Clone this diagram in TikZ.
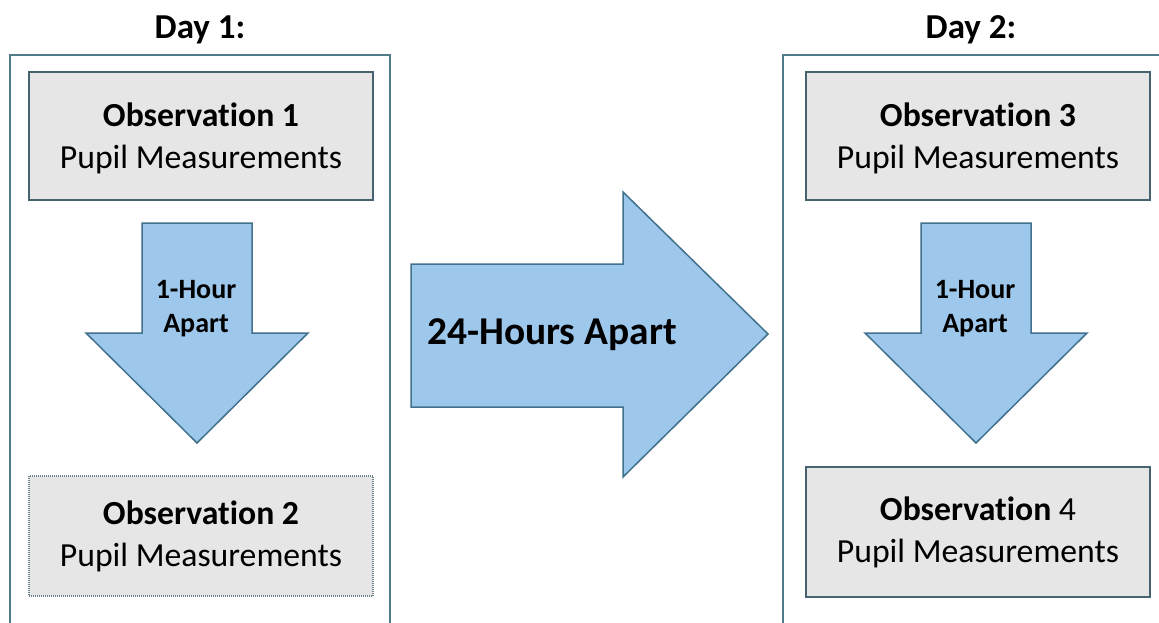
\documentclass[tikz,border=0pt]{standalone}
\usepackage{fontspec}
\setmainfont{Carlito}[Ligatures=NoCommon]
\usetikzlibrary{positioning}
\definecolor{panelc}{HTML}{4E7C88}
\definecolor{boxc}{HTML}{46636F}
\definecolor{boxfill}{HTML}{E7E6E6}
\definecolor{arrowc}{HTML}{9DC8EC}
\definecolor{arrowline}{HTML}{41718C}

\tikzset{
  panel/.style={draw=panelc, line width=2pt},
  obsbox/.style={draw=boxc, line width=2pt, fill=boxfill, minimum width=344pt,
    inner sep=0pt, align=center, font=\fontsize{33.7}{42}\selectfont},
  blockarrow/.style={draw=arrowline, line width=1.5pt, fill=arrowc, line join=miter},
  daylabel/.style={font=\fontsize{35}{40}\selectfont\bfseries},
}

\begin{document}
\begin{tikzpicture}[x=1pt, y=-1pt]
  \useasboundingbox (0,0) rectangle (1159,623);
  \clip (0,0) rectangle (1159,623);

  % day panels
  \draw[panel] (10,55) rectangle (390,650);
  \draw[panel] (783,55) rectangle (1180,650);
  \node[daylabel] (day1) at (200,30) {Day 1:};
  \node[daylabel] (day2) at (971,30) {Day 2:};

  % observations
  \node[obsbox, minimum height=128pt, text depth=0pt] (obs1) at (201,136) {\textbf{Observation 1}\\Pupil Measurements};
  \node[obsbox, minimum height=120pt, dash pattern=on 1pt off 1pt, draw=boxc!80] (obs2) at (201,536) {\textbf{Observation 2}\\Pupil Measurements};
  \node[obsbox, minimum height=128pt, text depth=0pt] (obs3) at (978,136) {\textbf{Observation 3}\\Pupil Measurements};
  \node[obsbox, minimum height=130pt] (obs4) at (978,532) {\textbf{Observation} 4\\Pupil Measurements};

  % one hour arrows
  \foreach \dx/\name in {0/hour1, 779/hour2}{
    \begin{scope}[xshift=\dx]
      \filldraw[blockarrow] (142,223) -- (252,223) -- (252,333) -- (308,333)
        -- (197,443) -- (86,333) -- (142,333) -- cycle;
      \node[align=center, font=\fontsize{28}{34}\selectfont\bfseries] (\name) at (196,309) {1-Hour\\Apart};
    \end{scope}
  }

  % 24 hour arrow
  \filldraw[blockarrow] (411,264) -- (623,264) -- (623,192) -- (768,334)
    -- (623,477) -- (623,407) -- (411,407) -- cycle;
  \node[anchor=west, inner sep=0pt, font=\fontsize{39.4}{46}\selectfont\bfseries] (gap) at (427,335) {24-Hours Apart};
\end{tikzpicture}
\end{document}
